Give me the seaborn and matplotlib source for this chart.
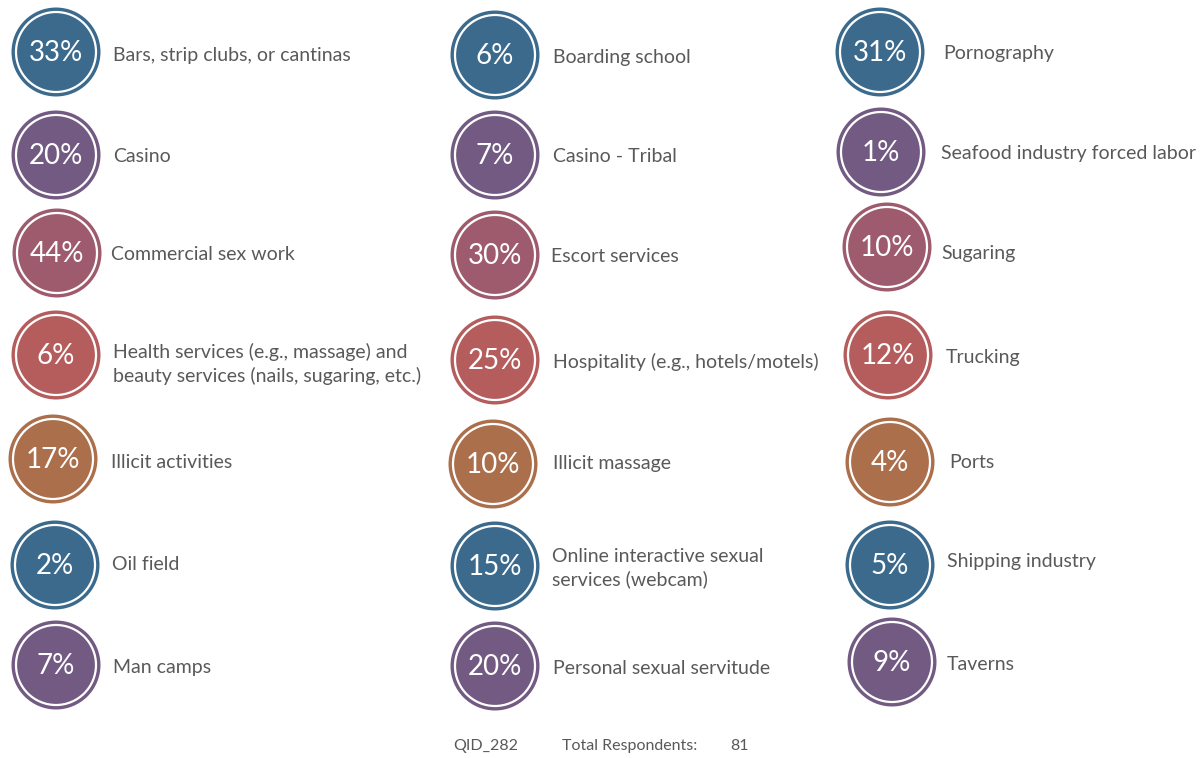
import matplotlib
matplotlib.use("Agg")
import matplotlib.pyplot as plt
import seaborn as sns
import pandas as pd

# ---- data ----
categories = [
    "Bars, strip clubs, or cantinas", "Casino", "Commercial sex work",
    "Health services (e.g., massage) and\nbeauty services (nails, sugaring, etc.)",
    "Illicit activities", "Oil field", "Man camps",
    "Boarding school", "Casino - Tribal", "Escort services",
    "Hospitality (e.g., hotels/motels)", "Illicit massage",
    "Online interactive sexual\nservices (webcam)", "Personal sexual servitude",
    "Pornography", "Seafood industry forced labor", "Sugaring", "Trucking",
    "Ports", "Shipping industry", "Taverns",
]
percents = [33, 20, 44, 6, 17, 2, 7,
            6, 7, 30, 25, 10, 15, 20,
            31, 1, 10, 12, 4, 5, 9]
qid = "QID_282"
total_respondents = 81

# ---- layout (pixel coordinates) ----
circle_x = [56, 56, 57, 56, 53, 55, 56,
            495, 495, 495, 495, 493, 495, 495,
            880, 881, 887, 888, 890, 890, 892]
circle_y = [52, 155, 253, 355, 459, 565, 665,
            55, 155, 255, 360, 464, 566, 666,
            52, 152, 247, 355, 462, 565, 662]
label_x = [113, 113, 111, 113, 111, 112, 113,
           553, 553, 551, 553, 553, 552, 553,
           943, 941, 941, 946, 949, 947, 947]
label_y = [56, 157, 255, 364, 463, 564, 667,
           57, 157, 256, 362, 464, 568, 668,
           53, 153, 253, 358, 463, 562, 664]
row_colors = ["#3B6A8D", "#735A82", "#9E5B6E", "#B55D5D", "#AB6F4C", "#3B6A8D", "#735A82"]
colors = row_colors * 3

W, H = 1203, 758
sns.set_theme(style="white")
plt.rcParams["font.family"] = ["Lato", "DejaVu Sans"]

fig = plt.figure(figsize=(W / 100, H / 100), dpi=100)
ax = fig.add_axes([0, 0, 1, 1])
ax.set_xlim(0, W)
ax.set_ylim(H, 0)
ax.axis("off")

df = pd.DataFrame({"x": circle_x, "y": circle_y, "cat": categories, "pct": percents})
palette = dict(zip(categories, colors))

px2pt = 72 / 100
outer_d = 89 * px2pt
inner_d = 80 * px2pt
sns.scatterplot(data=df, x="x", y="y", hue="cat", palette=palette, s=outer_d ** 2,
                linewidth=0, legend=False, ax=ax, zorder=2)
ax.scatter(df["x"], df["y"], s=inner_d ** 2, facecolors="none", edgecolors="white",
           linewidths=1.6, zorder=3)

for x, y, p in zip(circle_x, circle_y, percents):
    ax.text(x, y + 1, f"{p}%", color="white", fontsize=20, ha="center", va="center", zorder=4)

for x, y, c in zip(label_x, label_y, categories):
    ax.text(x, y, c, color="#595959", fontsize=14, ha="left", va="center",
            linespacing=1.4, zorder=4)

ax.text(453, 746, qid, color="#595959", fontsize=11.5, ha="left", va="center")
ax.text(562, 746, "Total Respondents:", color="#595959", fontsize=11.5, ha="left", va="center")
ax.text(730, 746, str(total_respondents), color="#595959", fontsize=11.5, ha="left", va="center")

fig.savefig("out.png", dpi=100, facecolor="white")
